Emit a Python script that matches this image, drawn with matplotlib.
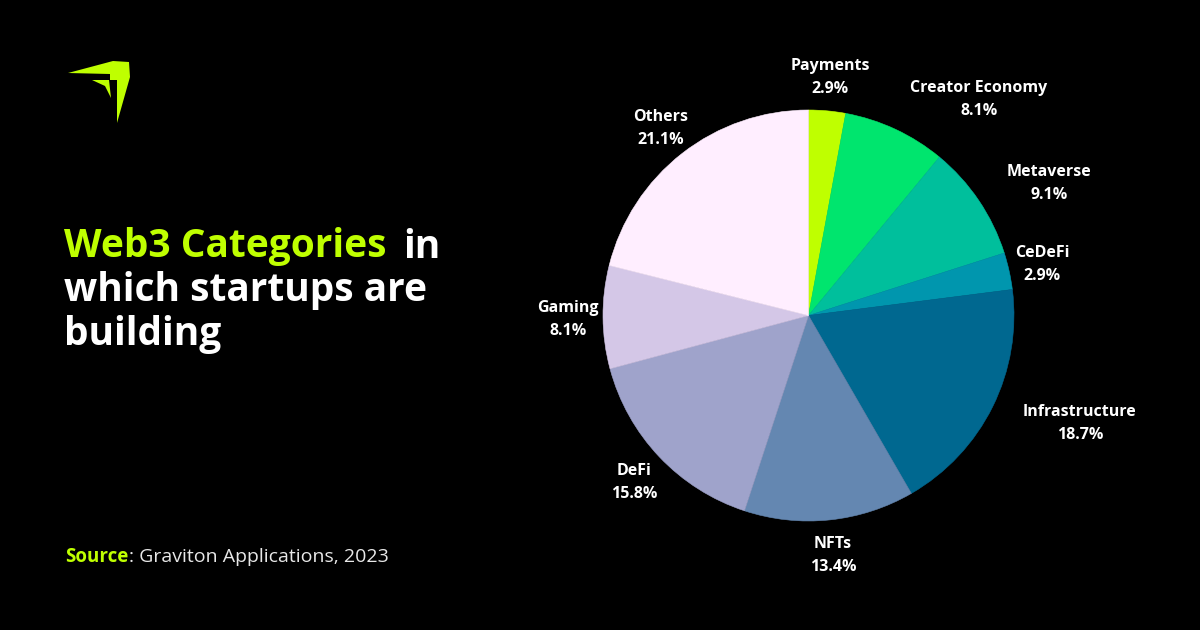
import matplotlib
matplotlib.use("Agg")
import matplotlib.pyplot as plt
from matplotlib.patches import Polygon

# slices clockwise from 12 o'clock
categories = ["Payments", "Creator Economy", "Metaverse", "CeDeFi", "Infrastructure",
              "NFTs", "DeFi", "Gaming", "Others"]
shares = [2.9, 8.1, 9.1, 2.9, 18.7, 13.4, 15.8, 8.1, 21.1]
colors = ["#BFFF00", "#00E56E", "#00BF9C", "#0096AE", "#006890",
          "#6487B1", "#9FA3CB", "#D4C7E7", "#FFEEFF"]

# label centres in image pixels (x, y of the name line)
label_pos = [(830, 66), (979, 88), (1049, 172), (1042, 253), (1080, 412),
             (833, 544), (634, 471), (568, 308), (661, 117)]

LIME = "#BFFF00"
H = 630
TITLE_SIZE = 28
LABEL_SIZE = 11.5

plt.rcParams["font.family"] = ["Open Sans", "DejaVu Sans"]

fig = plt.figure(figsize=(12, 6.3), dpi=100, facecolor="black")
ax = fig.add_axes([0, 0, 1, 1])
ax.set_facecolor("black")

wedges, _ = ax.pie(shares, colors=colors, startangle=90, counterclock=False,
                   center=(808.5, H - 315.5), radius=205.5, normalize=True)
for w in wedges:
    w.set_edgecolor(w.get_facecolor())
    w.set_linewidth(0.4)
ax.set_xlim(0, 1200)
ax.set_ylim(0, H)
ax.set_aspect("equal")
ax.axis("off")

for name, share, (x, y) in zip(categories, shares, label_pos):
    ax.text(x, H - y, name, color="white", fontsize=LABEL_SIZE, fontweight="bold",
            ha="center", va="center")
    ax.text(x, H - y - 23, f"{share}%", color="white", fontsize=LABEL_SIZE, fontweight="bold",
            ha="center", va="center")

# title, the first line has two colours
ax.text(64, H - 247, "Web3 Categories", color=LIME, fontsize=TITLE_SIZE, fontweight="bold",
        ha="left", va="center")
ax.text(403, H - 247, "in", color="white", fontsize=TITLE_SIZE, fontweight="bold",
        ha="left", va="center")
ax.text(64, H - 291, "which startups are", color="white", fontsize=TITLE_SIZE, fontweight="bold",
        ha="left", va="center")
ax.text(64, H - 335, "building", color="white", fontsize=TITLE_SIZE, fontweight="bold",
        ha="left", va="center")

# source line
ax.text(65, H - 557, "Source", color=LIME, fontsize=13.5, fontweight="bold",
        ha="left", va="center")
ax.text(129, H - 557, ": Graviton Applications, 2023", color="#E8E8E8", fontsize=14,
        ha="left", va="center")

# logo
logo_big = [(68, 73), (113, 61), (129, 62), (130, 77), (117, 123), (117, 80), (110, 80), (110, 74)]
logo_small = [(92, 80), (109, 80), (111, 98), (105, 86)]
for pts in (logo_big, logo_small):
    ax.add_patch(Polygon([(x, H - y) for x, y in pts], closed=True, facecolor=LIME, edgecolor="none"))

fig.savefig("out.png", dpi=100, facecolor="black")
